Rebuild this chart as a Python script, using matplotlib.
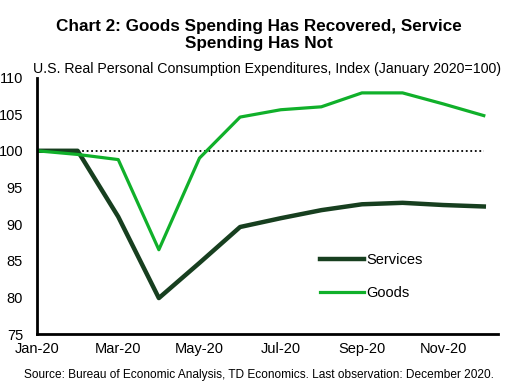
import numpy as np
import matplotlib.pyplot as plt
plt.switch_backend('agg')

plt.rcParams['font.family'] = ['Liberation Sans', 'DejaVu Sans']

months = ['Jan-20', 'Feb-20', 'Mar-20', 'Apr-20', 'May-20', 'Jun-20',
          'Jul-20', 'Aug-20', 'Sep-20', 'Oct-20', 'Nov-20', 'Dec-20']
services = [100.0, 100.0, 91.0, 79.9, 84.7, 89.6, 90.8, 91.9, 92.7, 92.9, 92.6, 92.4]
goods = [100.0, 99.5, 98.8, 86.5, 99.0, 104.6, 105.6, 106.0, 107.9, 107.9, 106.4, 104.8]
baseline = [100.0] * len(months)

fig = plt.figure(figsize=(5.17, 3.86), dpi=100)
ax = fig.add_axes([37 / 517, 1 - 334 / 386, (498 - 37) / 517, (334 - 77.5) / 386])

x = np.arange(len(months))
ax.plot(x, baseline, color='black', linestyle=(0, (1, 1.5)), linewidth=1.3)
ax.plot(x, services, color='#173f1f', linewidth=3.2, label='Services')
ax.plot(x, goods, color='#10b02a', linewidth=2.3, label='Goods')

ax.set_xlim(0, 11.35)
ax.set_ylim(75, 110)
ax.set_yticks(range(75, 111, 5))
ax.set_xticks(x[::2])
ax.set_xticklabels(months[::2])
ax.tick_params(length=0, labelsize=10.5, pad=6)
ax.tick_params(axis='y', pad=10)
for s in ['top', 'right']:
    ax.spines[s].set_visible(False)
for s in ['left', 'bottom']:
    ax.spines[s].set_linewidth(2)

ax.legend(loc='lower left', bbox_to_anchor=(0.585, 0.08), frameon=False,
          fontsize=10.5, handlelength=3.0, handletextpad=0.2, labelspacing=1.3)

fig.text(0.5, 1 - 35 / 386, 'Chart 2: Goods Spending Has Recovered, Service\nSpending Has Not',
         ha='center', va='center', fontsize=12.3, fontweight='bold', linespacing=1.2)
fig.text(33 / 517, 1 - 69 / 386, 'U.S. Real Personal Consumption Expenditures, Index (January 2020=100)',
         ha='left', va='center', fontsize=10.2)
fig.text(0.5, 1 - 375 / 386, 'Source: Bureau of Economic Analysis, TD Economics. Last observation: December 2020.',
         ha='center', va='center', fontsize=8.6)

fig.savefig('out.png', dpi=100)
